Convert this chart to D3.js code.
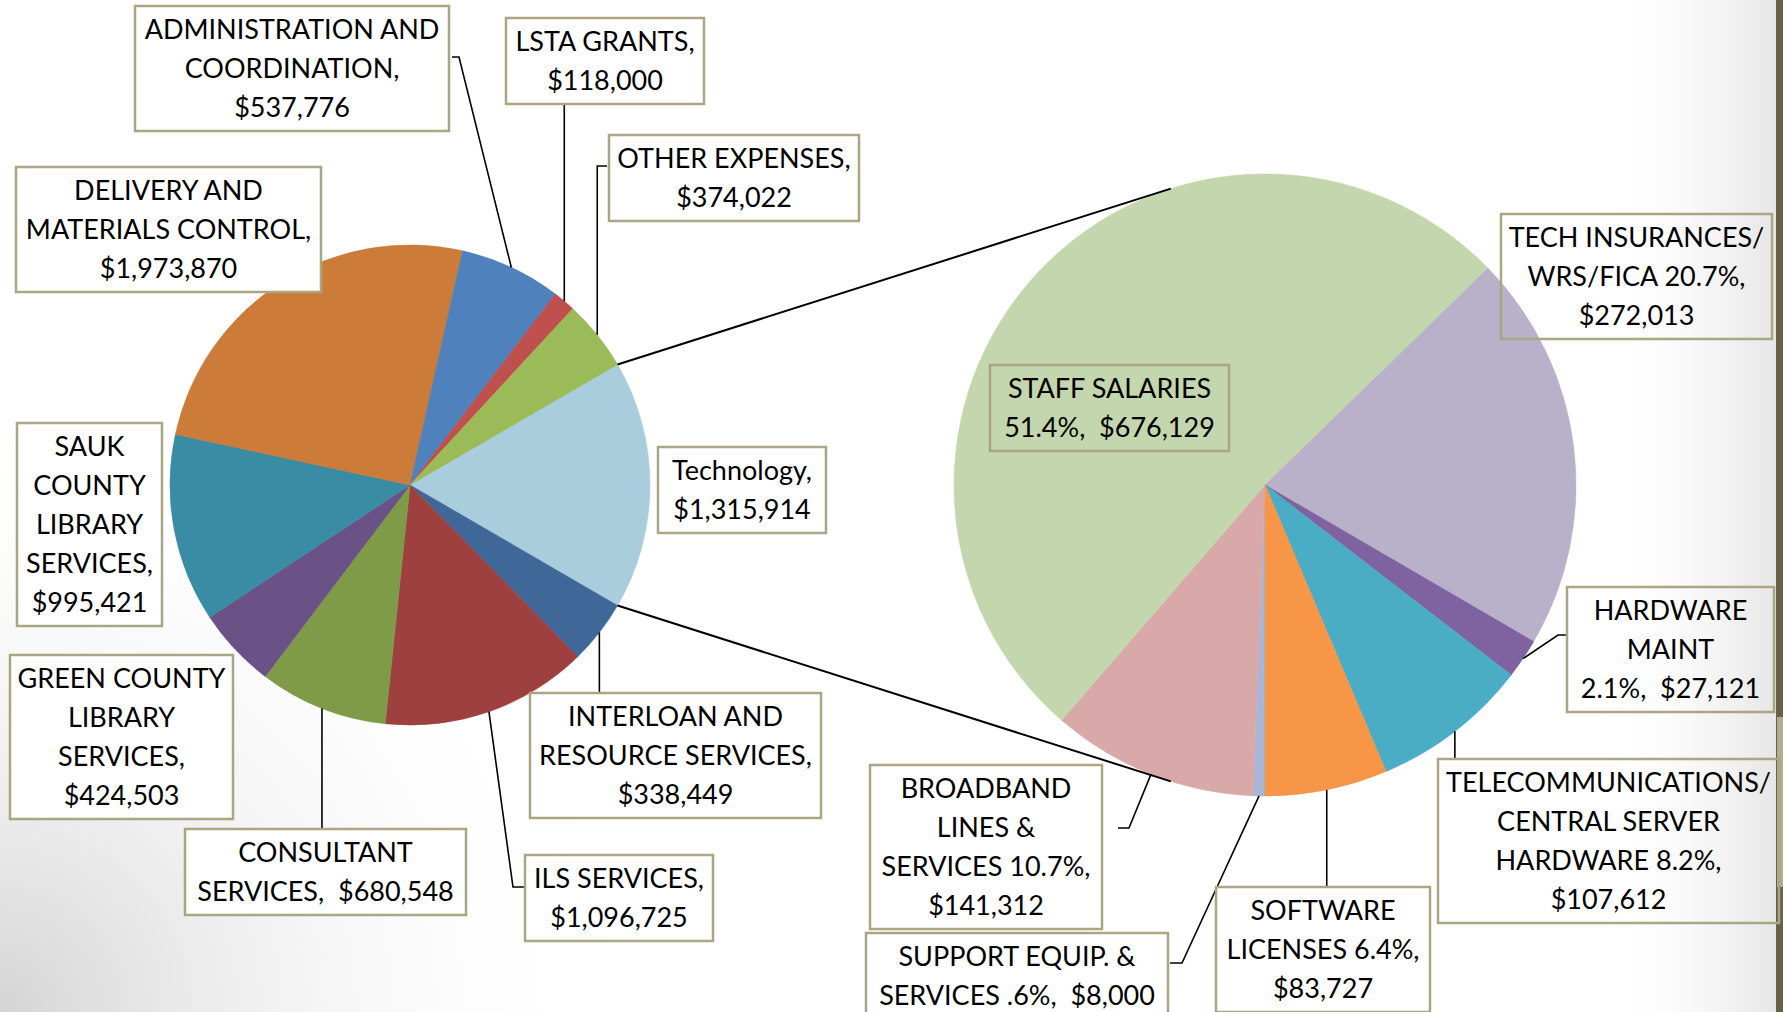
<!DOCTYPE html>
<html>
<head>
<meta charset="utf-8">
<script src="https://cdn.jsdelivr.net/npm/d3@7"></script>
<style>
  body { margin: 0; background: #fff; overflow: hidden; }
  svg text { font-family: Lato, "Open Sans", sans-serif; font-size: 27px; fill: #000; }
</style>
</head>
<body>
<div id="wrapper"></div>
<script>
// main pie: budget areas (Technology is split out into the second pie)
const mainKeys = ["technology", "interloan", "ils", "consultant", "green", "sauk", "delivery", "admin", "lsta", "other"]
const mainValues = [1315914, 338449, 1096725, 680548, 424503, 995421, 1973870, 537776, 118000, 374022]
const mainLabels = [
  ["Technology,", "$1,315,914"],
  ["INTERLOAN AND", "RESOURCE SERVICES,", "$338,449"],
  ["ILS SERVICES,", "$1,096,725"],
  ["CONSULTANT", "SERVICES,  $680,548"],
  ["GREEN COUNTY", "LIBRARY", "SERVICES,", "$424,503"],
  ["SAUK", "COUNTY", "LIBRARY", "SERVICES,", "$995,421"],
  ["DELIVERY AND", "MATERIALS CONTROL,", "$1,973,870"],
  ["ADMINISTRATION AND", "COORDINATION,", "$537,776"],
  ["LSTA GRANTS,", "$118,000"],
  ["OTHER EXPENSES,", "$374,022"]
]

// second pie: technology breakdown
const techKeys = ["support", "broadband", "staff", "insurance", "hardware", "telecom", "software"]
const techValues = [8000, 141312, 676129, 272013, 27121, 107612, 83727]
const techLabels = [
  ["SUPPORT EQUIP. &", "SERVICES .6%,  $8,000"],
  ["BROADBAND", "LINES &", "SERVICES 10.7%,", "$141,312"],
  ["STAFF SALARIES", "51.4%,  $676,129"],
  ["TECH INSURANCES/", "WRS/FICA 20.7%,", "$272,013"],
  ["HARDWARE", "MAINT", "2.1%,  $27,121"],
  ["TELECOMMUNICATIONS/", "CENTRAL SERVER", "HARDWARE 8.2%,", "$107,612"],
  ["SOFTWARE", "LICENSES 6.4%,", "$83,727"]
]

const colors = {
  technology: "#a9cddc", interloan: "#3f6899", ils: "#9e4040", consultant: "#7f9b48",
  green: "#6a5186", sauk: "#3a8ba4", delivery: "#cc7b38", admin: "#4f81bd",
  lsta: "#c0504d", other: "#9bbb59",
  support: "#a7b6d9", broadband: "#d9a9aa", staff: "#c4d6ad", insurance: "#b9b0ca",
  hardware: "#7f63a0", telecom: "#4bacc6", software: "#f79646"
}

// label boxes (positioned by hand in the original), leader elbows
const labelLayout = {
  technology: { x: 658, y: 447, w: 168, fill: "#fff" },
  interloan: { x: 530, y: 693, w: 291, fill: "#fff", leader: "vertical", toY: 693 },
  ils: { x: 525, y: 855, w: 188, fill: "#fff", leader: [[525, 887], [513, 887]] },
  consultant: { x: 185, y: 829, w: 281, fill: "#fff", leader: "vertical", toY: 829 },
  green: { x: 10, y: 655, w: 223, fill: "#fff" },
  sauk: { x: 17, y: 423, w: 145, fill: "#fff" },
  delivery: { x: 16, y: 167, w: 305, fill: "#fff" },
  admin: { x: 135, y: 6, w: 314, fill: "#fff", leader: [[452, 57], [459, 57]] },
  lsta: { x: 506, y: 18, w: 198, fill: "#fff", leader: "vertical", toY: 105 },
  other: { x: 609, y: 135, w: 250, fill: "#fff", leader: "elbow", fromX: 607, atY: 166 },
  support: { x: 866, y: 933, w: 302, fill: "none", leader: [[1170, 963], [1182, 963]] },
  broadband: { x: 870, y: 765, w: 232, fill: "none", leader: [[1118, 828], [1129, 828]] },
  staff: { x: 990, y: 365, w: 239, fill: "none" },
  insurance: { x: 1501, y: 214, w: 271, fill: "none" },
  hardware: { x: 1567, y: 587, w: 207, fill: "none", leader: [[1567, 635], [1558, 635]] },
  telecom: { x: 1438, y: 759, w: 341, fill: "none", leader: "vertical", toY: 759 },
  software: { x: 1216, y: 887, w: 214, fill: "none", leader: "vertical", toY: 887 }
}

const dimensions = {
  width: 1783,
  height: 1012,
  main: { cx: 410, cy: 485, r: 240 },
  tech: { cx: 1265, cy: 485, r: 311, startDeg: 180 },
  lineHeight: 39
}

const wrapper = d3.select("#wrapper")
  .append("svg")
    .attr("width", dimensions.width)
    .attr("height", dimensions.height)

// slide background: white with soft grey corners and a dark strip at the right
const defs = wrapper.append("defs")
const corner = defs.append("radialGradient").attr("id", "corner")
    .attr("gradientUnits", "userSpaceOnUse")
    .attr("cx", 0).attr("cy", dimensions.height).attr("r", 620)
corner.append("stop").attr("offset", "0%").attr("stop-color", "#d4d4d4")
corner.append("stop").attr("offset", "100%").attr("stop-color", "#fff").attr("stop-opacity", 0)
const side = defs.append("linearGradient").attr("id", "side")
    .attr("gradientUnits", "userSpaceOnUse")
    .attr("x1", 1600).attr("x2", 1776).attr("y1", 0).attr("y2", 0)
side.append("stop").attr("offset", "0%").attr("stop-color", "#fff").attr("stop-opacity", 0)
side.append("stop").attr("offset", "100%").attr("stop-color", "#e6e6e6")

wrapper.append("rect").attr("width", dimensions.width).attr("height", dimensions.height).attr("fill", "#fff")
wrapper.append("rect").attr("width", dimensions.width).attr("height", dimensions.height).attr("fill", "url(#corner)")
wrapper.append("rect").attr("width", dimensions.width).attr("height", dimensions.height).attr("fill", "url(#side)")
wrapper.append("rect").attr("x", 1776).attr("width", 7).attr("height", dimensions.height).attr("fill", "#6a6049")
wrapper.append("rect").attr("x", 1777).attr("y", 717).attr("width", 6).attr("height", 170).attr("fill", "#b2ad8d")

const toRad = deg => deg * Math.PI / 180
const pointAt = (c, r, a) => [c.cx + r * Math.sin(a), c.cy - r * Math.cos(a)]

// main pie, technology slice centred at 3 o'clock
const mainData = mainKeys.map((k, i) => ({ key: k, value: mainValues[i], lines: mainLabels[i] }))
const mainTotal = d3.sum(mainValues)
const techSpan = 2 * Math.PI * mainValues[0] / mainTotal
const mainStart = Math.PI / 2 - techSpan / 2
const mainArcs = d3.pie().sort(null).value(d => d.value)
    .startAngle(mainStart).endAngle(mainStart + 2 * Math.PI)(mainData)

const techData = techKeys.map((k, i) => ({ key: k, value: techValues[i], lines: techLabels[i] }))
const techStart = toRad(dimensions.tech.startDeg)
const techArcs = d3.pie().sort(null).value(d => d.value)
    .startAngle(techStart).endAngle(techStart + 2 * Math.PI)(techData)

const drawPie = (arcs, c) => {
  const arc = d3.arc().innerRadius(0).outerRadius(c.r)
  wrapper.append("g")
      .attr("transform", `translate(${c.cx},${c.cy})`)
    .selectAll("path")
    .data(arcs)
    .enter().append("path")
      .attr("d", arc)
      .attr("fill", d => colors[d.data.key])
      .attr("stroke", d => colors[d.data.key])
      .attr("stroke-width", 0.6)
}
drawPie(mainArcs, dimensions.main)
drawPie(techArcs, dimensions.tech)

// connector lines: from the technology slice edges to tangents of the second pie
const tc = dimensions.tech
const tangentPoint = (p, pickTop) => {
  const dx = p[0] - tc.cx, dy = p[1] - tc.cy
  const d = Math.hypot(dx, dy)
  const base = Math.atan2(dx, -dy)
  const off = Math.acos(tc.r / d)
  const cands = [pointAt(tc, tc.r, base + off), pointAt(tc, tc.r, base - off)]
  return cands.sort((a, b) => pickTop ? a[1] - b[1] : b[1] - a[1])[0]
}
const techSlice = mainArcs[0]
const pTop = pointAt(dimensions.main, dimensions.main.r, techSlice.startAngle)
const pBot = pointAt(dimensions.main, dimensions.main.r, techSlice.endAngle)
;[[pTop, tangentPoint(pTop, true)], [pBot, tangentPoint(pBot, false)]].forEach(seg => {
  wrapper.append("line")
      .attr("x1", seg[0][0]).attr("y1", seg[0][1])
      .attr("x2", seg[1][0]).attr("y2", seg[1][1])
      .attr("stroke", "#000")
      .attr("stroke-width", 2)
})

// leader lines and label boxes
const drawLabels = (arcs, c) => {
  arcs.forEach(d => {
    const lay = labelLayout[d.data.key]
    const mid = (d.startAngle + d.endAngle) / 2
    const p = pointAt(c, c.r, mid)
    let pts = null
    if (lay.leader === "vertical") pts = [[p[0], lay.toY], p]
    else if (lay.leader === "elbow") pts = [[lay.fromX, lay.atY], [p[0], lay.atY], p]
    else if (Array.isArray(lay.leader)) pts = [...lay.leader, p]
    if (pts) {
      wrapper.append("path")
          .attr("d", d3.line()(pts))
          .attr("fill", "none")
          .attr("stroke", "#000")
          .attr("stroke-width", 1.6)
    }
  })
  arcs.forEach(d => {
    const lay = labelLayout[d.data.key]
    const lines = d.data.lines
    const h = lines.length * dimensions.lineHeight + 8
    const g = wrapper.append("g")
    g.append("rect")
        .attr("x", lay.x).attr("y", lay.y)
        .attr("width", lay.w).attr("height", h)
        .attr("fill", lay.fill)
        .attr("stroke", "#aaa583")
        .attr("stroke-width", 2.5)
    g.selectAll("text")
      .data(lines)
      .enter().append("text")
        .attr("x", lay.x + lay.w / 2)
        .attr("y", (t, i) => lay.y + 23.5 + i * dimensions.lineHeight)
        .attr("dy", "0.36em")
        .attr("text-anchor", "middle")
        .style("white-space", "pre")
        .text(t => t)
  })
}
drawLabels(mainArcs, dimensions.main)
drawLabels(techArcs, dimensions.tech)
</script>
</body>
</html>
